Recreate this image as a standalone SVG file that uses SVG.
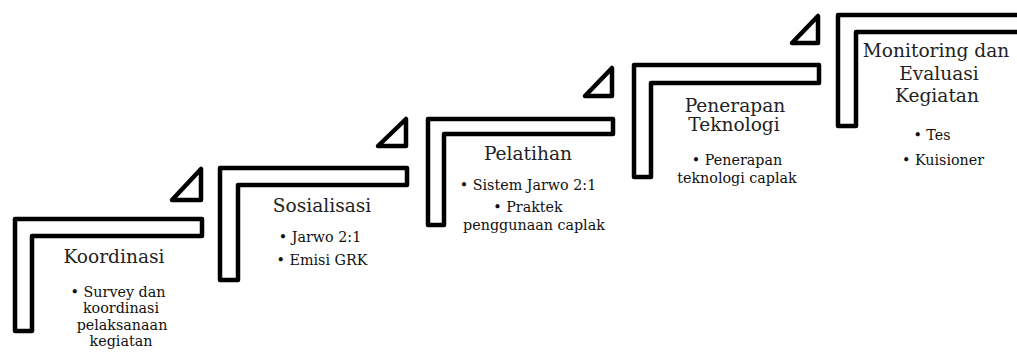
<svg xmlns="http://www.w3.org/2000/svg" width="1017" height="356" viewBox="0 0 1017 356">
<style>
.step{fill:#fff;stroke:#000;stroke-width:4.5;stroke-linejoin:round}
.tri{fill:#fff;stroke:#000;stroke-width:4.5;stroke-linejoin:round}
.t{font-family:"DejaVu Serif","Liberation Serif",serif;font-size:18.6px;fill:#222;text-anchor:middle}
.b{font-family:"DejaVu Serif","Liberation Serif",serif;font-size:14.3px;fill:#111;text-anchor:middle}
</style>
<rect width="1017" height="356" fill="#fff"/>
<g id="step1">
<path class="step" d="M15,219 H202 V236 H32 V331 H15 Z"/>
<text class="t" x="114" y="263">Koordinasi</text>
<text class="b" x="118" y="297">• Survey dan</text>
<text class="b" x="121" y="313">koordinasi</text>
<text class="b" x="122" y="330">pelaksanaan</text>
<text class="b" x="121" y="346">kegiatan</text>
</g>
<g id="step2">
<path class="step" d="M220,168 H407 V185 H238 V280 H220 Z"/>
<text class="t" x="322" y="212">Sosialisasi</text>
<text class="b" x="320" y="242">• Jarwo 2:1</text>
<text class="b" x="322" y="265">• Emisi GRK</text>
</g>
<g id="step3">
<path class="step" d="M428,119 H613 V134 H444 V225 H428 Z"/>
<text class="t" x="528" y="160">Pelatihan</text>
<text class="b" x="528" y="190">• Sistem Jarwo 2:1</text>
<text class="b" x="528" y="212">• Praktek</text>
<text class="b" x="534" y="230">penggunaan caplak</text>
</g>
<g id="step4">
<path class="step" d="M634,65 H819 V83 H651 V177 H634 Z"/>
<text class="t" x="735" y="112">Penerapan</text>
<text class="t" x="734" y="131">Teknologi</text>
<text class="b" x="737" y="165">• Penerapan</text>
<text class="b" x="737" y="183">teknologi caplak</text>
</g>
<g id="step5">
<path class="step" d="M1030,15 H838 V126 H856 V32 H1030"/>
<text class="t" x="936" y="57">Monitoring dan</text>
<text class="t" x="939" y="80">Evaluasi</text>
<text class="t" x="937" y="102">Kegiatan</text>
<text class="b" x="932" y="140">• Tes</text>
<text class="b" x="943" y="165">• Kuisioner</text>
</g>
<g id="connectors">
<path class="tri" d="M172,200 L201,169 V200 Z"/>
<path class="tri" d="M378,146 L406,119 V146 Z"/>
<path class="tri" d="M585,96 L612,68 V96 Z"/>
<path class="tri" d="M792,43 L818,16 V43 Z"/>
</g>
</svg>
